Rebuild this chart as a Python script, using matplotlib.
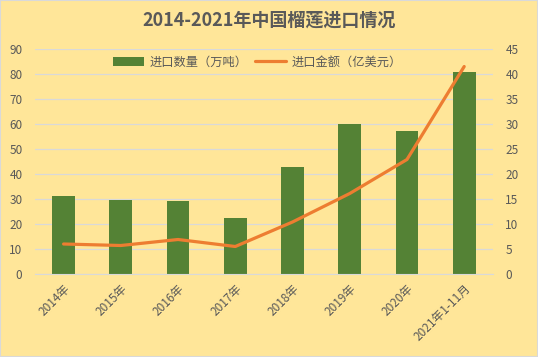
import numpy as np
import matplotlib
matplotlib.use('Agg')
from matplotlib import pyplot as plt

plt.rcParams['font.family'] = ['Noto Sans CJK SC', 'DejaVu Sans']

years = ['2014年', '2015年', '2016年', '2017年', '2018年', '2019年', '2020年', '2021年1-11月']
volume = [31.3, 29.7, 29.2, 22.5, 42.8, 60.1, 57.3, 80.8]   # 万吨
value = [6.0, 5.7, 6.9, 5.5, 10.4, 16.1, 22.9, 41.5]        # 亿美元

txt = '#595959'
bg = '#FFE699'

fig = plt.figure(figsize=(5.38, 3.57), dpi=100, facecolor=bg)
fig.patches.append(plt.Rectangle((0, 0), 1, 1, transform=fig.transFigure,
                                 fill=False, edgecolor='#D9D9D9', linewidth=1.5))
ax = fig.add_axes([0.065, 0.2325, 0.851, 0.6302])
ax.set_facecolor(bg)
x = np.arange(len(years))

bars = ax.bar(x, volume, width=0.4, color='#548235', label='进口数量（万吨）', zorder=2)
ax.set_ylim(0, 90)
ax.set_yticks(np.arange(0, 91, 10))
ax.set_xlim(-0.5, len(years) - 0.5)
ax.grid(axis='y', color='#D9D9D9', linewidth=0.9, zorder=0)
ax.set_axisbelow(True)

ax2 = ax.twinx()
line, = ax2.plot(x, value, color='#ED7D31', linewidth=2.3, label='进口金额（亿美元）',
                 solid_capstyle='round', zorder=3)
ax2.set_ylim(0, 45)
ax2.set_yticks(np.arange(0, 46, 5))

for a in (ax, ax2):
    for s in a.spines.values():
        s.set_visible(False)
    a.tick_params(length=0, colors=txt, labelsize=8.5)
ax.spines['bottom'].set_visible(True)
ax.spines['bottom'].set_color('#D9D9D9')
ax.tick_params(axis='y', pad=9)
ax2.tick_params(axis='y', pad=9)

ax.set_xticks(x)
ax.set_xticklabels(years, rotation=45, ha='right', rotation_mode='anchor')
ax.tick_params(axis='x', pad=6)

fig.text(0.5, 0.945, '2014-2021年中国榴莲进口情况', ha='center', va='center',
         fontsize=13, fontweight='bold', color=txt)
fig.legend([bars, line], ['进口数量（万吨）', '进口金额（亿美元）'], loc='center',
           bbox_to_anchor=(0.478, 0.826), ncol=2, frameon=False, fontsize=8.8,
           labelcolor=txt, handlelength=2.6, columnspacing=0.6, handletextpad=0.4)

plt.savefig('out.png', dpi=100, facecolor=bg)
